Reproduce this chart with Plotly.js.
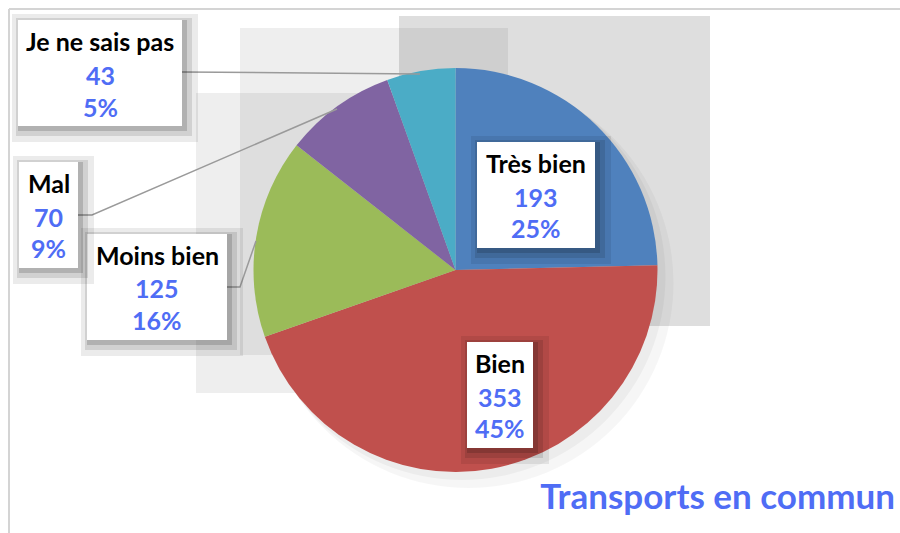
<!DOCTYPE html>
<html>
<head>
<meta charset="utf-8">
<script src="https://cdn.plot.ly/plotly-3.0.1.min.js"></script>
<style>html,body{margin:0;padding:0;background:#fff;}#chart{width:900px;height:533px;}</style>
</head>
<body>
<div id="chart"></div>
<script>
// Data
const categories = ["Très bien", "Bien", "Moins bien", "Mal", "Je ne sais pas"];
const values = [193, 353, 125, 70, 43];
const pctLabels = ["25%", "45%", "16%", "9%", "5%"];
const colors = ["#4F81BD", "#C0504D", "#9BBB59", "#8064A2", "#4BACC6"];
const chartTitle = "Transports en commun";

const W = 900, H = 533;
const px = x => x / W;
const py = y => 1 - y / H;

// Pie geometry (pixels)
const cx = 455.5, cy = 270, R = 202;

// Label boxes: [left, top, right, bottom, line1y, line2y, line3y]
const boxes = [
  [477, 142, 595, 248, 163, 197, 228],
  [467, 342, 533, 448, 363, 397, 428],
  [87, 234, 227, 340, 255, 288, 320],
  [19, 162, 78, 268, 183, 217, 248],
  [18, 20, 182, 126, 41, 75, 107]
];

const blue = "#4F6DF5";
const FONT = "Lato, 'Open Sans', sans-serif";

const shapes = [];
function rect(x0, y0, x1, y1, fill, layer, extra) {
  shapes.push(Object.assign({type: "rect", xref: "paper", yref: "paper",
    x0: px(x0), x1: px(x1), y0: py(y1), y1: py(y0),
    fillcolor: fill, line: {width: 0}, layer: layer}, extra || {}));
}
function path(pts, color, width) {
  let d = pts.map((p, i) => (i ? "L" : "M") + px(p[0]) + "," + py(p[1])).join(" ");
  shapes.push({type: "path", xref: "paper", yref: "paper", path: d,
    line: {color: color, width: width}, layer: "above"});
}

// Frame
shapes.push({type: "line", xref: "paper", yref: "paper", x0: px(9), x1: 1, y0: py(9), y1: py(9), line: {color: "#d4d4d4", width: 2}, layer: "below"});
shapes.push({type: "line", xref: "paper", yref: "paper", x0: px(9), x1: px(9), y0: py(9), y1: 0, line: {color: "#d4d4d4", width: 2}, layer: "below"});

// Background grey artefact rectangles
rect(399, 16, 710, 326, "rgba(0,0,0,0.13)", "below");
rect(240, 28, 508, 355, "rgba(0,0,0,0.065)", "below");
rect(196, 93, 400, 393, "rgba(0,0,0,0.065)", "below");
// soft pie shadow
shapes.push({type: "circle", xref: "paper", yref: "paper",
  x0: px(cx - R + 10), x1: px(cx + R + 16), y0: py(cy + R + 16), y1: py(cy - R + 10),
  fillcolor: "rgba(0,0,0,0.035)", line: {width: 0}, layer: "below"});
shapes.push({type: "circle", xref: "paper", yref: "paper",
  x0: px(cx - R + 5), x1: px(cx + R + 8), y0: py(cy + R + 8), y1: py(cy - R + 5),
  fillcolor: "rgba(0,0,0,0.04)", line: {width: 0}, layer: "below"});

// Leader lines
path([[182, 72], [420, 74]], "#9a9a9a", 1.5);
path([[78, 215], [92, 215], [337, 109]], "#9a9a9a", 1.5);
path([[227, 287], [240, 287], [256, 241]], "#9a9a9a", 1.5);

const annotations = [];
boxes.forEach((b, i) => {
  const [l, t, r, btm, y1, y2, y3] = b;
  // shadows
  rect(l - 6, t - 6, r + 16, btm + 16, "rgba(0,0,0,0.08)", "above");
  rect(l - 2, t - 2, r + 10, btm + 10, "rgba(0,0,0,0.11)", "above");
  rect(l, t, r + 5, btm + 5, "rgba(0,0,0,0.15)", "above");
  rect(l, t, r, btm, "#ffffff", "above");
  const xc = px((l + r) / 2);
  const lines = [[categories[i], "#000000", y1], [String(values[i]), blue, y2], [pctLabels[i], blue, y3]];
  lines.forEach(([txt, col, yy]) => {
    annotations.push({xref: "paper", yref: "paper", x: xc, y: py(yy),
      xanchor: "center", yanchor: "middle", showarrow: false, text: "<b>" + txt + "</b>",
      font: {family: FONT, size: 25, color: col}});
  });
});

const data = [{
  type: "pie",
  labels: categories,
  values: values,
  marker: {colors: colors, line: {width: 0}},
  sort: false,
  direction: "clockwise",
  rotation: 0,
  textinfo: "none",
  hoverinfo: "none",
  showlegend: false,
  domain: {x: [px(cx - R), px(cx + R)], y: [py(cy + R), py(cy - R)]}
}];

const layout = {
  width: W, height: H,
  margin: {l: 0, r: 0, t: 0, b: 0},
  paper_bgcolor: "#ffffff",
  showlegend: false,
  title: {text: "<b>" + chartTitle + "</b>", x: 895 / W, xanchor: "right", y: 1 - 497 / H, yanchor: "middle",
    font: {family: FONT, size: 35, color: blue}},
  shapes: shapes,
  annotations: annotations
};

Plotly.newPlot("chart", data, layout, {displayModeBar: false, staticPlot: true});
</script>
</body>
</html>
